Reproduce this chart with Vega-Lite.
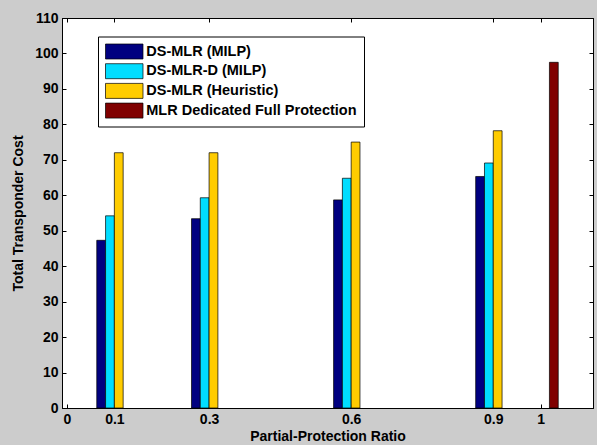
{
  "$schema": "https://vega.github.io/schema/vega-lite/v6.json",
  "width": 531,
  "height": 390,
  "autosize": {"type": "none"},
  "padding": {"left": 62, "top": 18, "right": 4, "bottom": 37},
  "background": "#cccccc",
  "config": {
    "font": "Liberation Sans",
    "view": {"fill": "white", "stroke": "black", "strokeWidth": 1},
    "axis": {
      "domainColor": "black",
      "tickColor": "black",
      "tickSize": -4,
      "grid": false,
      "labelFont": "Liberation Sans",
      "labelFontSize": 14,
      "labelFontWeight": "bold",
      "labelColor": "black",
      "titleFont": "Liberation Sans",
      "titleFontSize": 14,
      "titleFontWeight": "bold",
      "titleColor": "black"
    },
    "legend": {
      "orient": "none",
      "legendX": 36,
      "legendY": 18.5,
      "symbolType": "M-2.5,-1H2.5V1H-2.5Z",
      "symbolSize": 225,
      "symbolOffset": 11.25,
      "symbolStrokeColor": "black",
      "symbolStrokeWidth": 0.7,
      "symbolOpacity": 1,
      "fillColor": "white",
      "strokeColor": "black",
      "padding": 7,
      "rowPadding": 1.7,
      "labelFont": "Liberation Sans",
      "labelFontSize": 14.5,
      "labelFontWeight": "bold",
      "labelColor": "black",
      "labelOffset": 14,
      "labelLimit": 400
    }
  },
  "data": {
    "values": [
      {"ratio": 0.1, "series": "DS-MLR (MILP)", "cost": 47.3},
      {"ratio": 0.1, "series": "DS-MLR-D (MILP)", "cost": 54.2},
      {"ratio": 0.1, "series": "DS-MLR (Heuristic)", "cost": 72},
      {"ratio": 0.3, "series": "DS-MLR (MILP)", "cost": 53.4},
      {"ratio": 0.3, "series": "DS-MLR-D (MILP)", "cost": 59.3},
      {"ratio": 0.3, "series": "DS-MLR (Heuristic)", "cost": 72},
      {"ratio": 0.6, "series": "DS-MLR (MILP)", "cost": 58.7},
      {"ratio": 0.6, "series": "DS-MLR-D (MILP)", "cost": 64.8},
      {"ratio": 0.6, "series": "DS-MLR (Heuristic)", "cost": 75},
      {"ratio": 0.9, "series": "DS-MLR (MILP)", "cost": 65.3},
      {"ratio": 0.9, "series": "DS-MLR-D (MILP)", "cost": 69.1},
      {"ratio": 0.9, "series": "DS-MLR (Heuristic)", "cost": 78.2},
      {"ratio": 1.0, "series": "MLR Dedicated Full Protection", "cost": 97.5}
    ]
  },
  "encoding": {
    "x": {
      "field": "ratio",
      "type": "quantitative",
      "scale": {"domain": [0, 1.1], "nice": false, "zero": false},
      "axis": null
    },
    "y": {
      "field": "cost",
      "type": "quantitative",
      "stack": null,
      "scale": {"domain": [0, 110], "nice": false},
      "axis": null
    },
    "color": {
      "field": "series",
      "type": "nominal",
      "scale": {
        "domain": ["DS-MLR (MILP)", "DS-MLR-D (MILP)", "DS-MLR (Heuristic)", "MLR Dedicated Full Protection"],
        "range": ["#000080", "#00DDFF", "#FFCC00", "#800000"]
      },
      "legend": {"title": null}
    }
  },
  "layer": [
    {
      "transform": [{"filter": "datum.series === 'DS-MLR (MILP)'"}],
      "mark": {"type": "bar", "width": 8.8, "xOffset": -13.2, "stroke": "black", "strokeWidth": 0.7},
      "encoding": {
        "x": {
          "field": "ratio",
          "type": "quantitative",
          "axis": {
            "values": [0, 0.1, 0.3, 0.6, 0.9, 1],
            "format": "~g",
            "labelPadding": 8,
            "title": "Partial-Protection Ratio",
            "titlePadding": 3
          }
        },
        "y": {
          "field": "cost",
          "type": "quantitative",
          "axis": {
            "values": [0, 10, 20, 30, 40, 50, 60, 70, 80, 90, 100, 110],
            "labelPadding": 8,
            "title": "Total Transponder Cost",
            "titlePadding": 9
          }
        }
      }
    },
    {
      "transform": [{"filter": "datum.series === 'DS-MLR-D (MILP)'"}],
      "mark": {"type": "bar", "width": 8.8, "xOffset": -4.4, "stroke": "black", "strokeWidth": 0.7}
    },
    {
      "transform": [{"filter": "datum.series === 'DS-MLR (Heuristic)'"}],
      "mark": {"type": "bar", "width": 8.8, "xOffset": 4.4, "stroke": "black", "strokeWidth": 0.7}
    },
    {
      "transform": [{"filter": "datum.series === 'MLR Dedicated Full Protection'"}],
      "mark": {"type": "bar", "width": 8.8, "xOffset": 13.2, "stroke": "black", "strokeWidth": 0.7}
    },
    {
      "mark": {"type": "point", "opacity": 0},
      "encoding": {
        "x": {
          "field": "ratio",
          "type": "quantitative",
          "axis": {"orient": "top", "values": [0, 0.1, 0.3, 0.6, 0.9, 1], "labels": false, "title": null}
        },
        "y": {
          "field": "cost",
          "type": "quantitative",
          "axis": {"orient": "right", "values": [0, 10, 20, 30, 40, 50, 60, 70, 80, 90, 100, 110], "labels": false, "title": null}
        },
        "color": {"value": "black"}
      }
    }
  ],
  "resolve": {"axis": {"x": "independent", "y": "independent"}}
}
